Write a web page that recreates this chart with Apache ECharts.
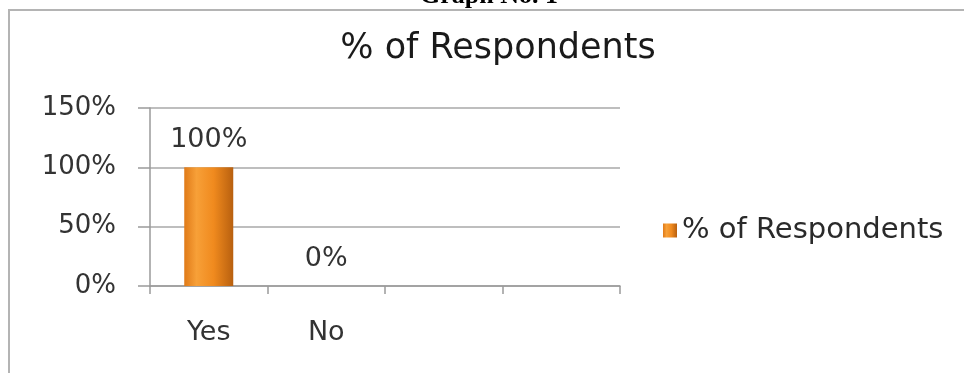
<!DOCTYPE html>
<html>
<head>
<meta charset="utf-8">
<script src="https://cdn.jsdelivr.net/npm/echarts@6/dist/echarts.min.js"></script>
<style>
html,body{margin:0;padding:0;background:#fff;}
#chart{width:964px;height:373px;}
</style>
</head>
<body>
<div id="chart"></div>
<script>
const categories = ['Yes', 'No', '', ''];
const values = [100, 0, null, null];
const seriesName = '% of Respondents';
const chartTitle = '% of Respondents';
const pageHeading = 'Graph No. 1';
const yTicks = { min: 0, max: 150, interval: 50 };

const FONT = 'DejaVu Sans';
const chart = echarts.init(document.getElementById('chart'), null, { renderer: 'canvas' });

const barColor = new echarts.graphic.LinearGradient(0, 0, 1, 0, [
  { offset: 0, color: '#e07a18' },
  { offset: 0.25, color: '#f7a038' },
  { offset: 0.6, color: '#f08a1e' },
  { offset: 1, color: '#b8600f' }
]);

chart.setOption({
  animation: false,
  backgroundColor: '#ffffff',
  title: {
    text: chartTitle,
    left: 493,
    top: 26,
    textAlign: 'center',
    textStyle: { fontFamily: FONT, fontSize: 35, fontWeight: 'normal', color: '#1a1a1a' }
  },
  legend: {
    left: 658,
    top: 211,
    itemWidth: 14,
    itemHeight: 14,
    itemGap: 10,
    icon: 'rect',
    data: [seriesName],
    textStyle: { fontFamily: FONT, fontSize: 29, color: '#2a2a2a' }
  },
  grid: { left: 150, right: 344, top: 108, bottom: 87, containLabel: false },
  xAxis: {
    type: 'category',
    data: categories,
    boundaryGap: true,
    axisLine: { show: true, lineStyle: { color: '#9a9a9a', width: 1.5 } },
    axisTick: { show: true, interval: 0, length: 8, lineStyle: { color: '#9a9a9a', width: 1.5 } },
    axisLabel: { interval: 0, margin: 33, fontFamily: FONT, fontSize: 27, color: '#333333' }
  },
  yAxis: {
    type: 'value',
    min: yTicks.min,
    max: yTicks.max,
    interval: yTicks.interval,
    axisLine: { show: true, lineStyle: { color: '#9a9a9a', width: 1.5 } },
    axisTick: { show: true, length: 12, lineStyle: { color: '#9a9a9a', width: 1.5 } },
    axisLabel: { margin: 34, fontFamily: FONT, fontSize: 26, color: '#333333', formatter: '{value}%' },
    splitLine: { show: true, lineStyle: { color: '#a8a8a8', width: 1.5 } }
  },
  series: [{
    name: seriesName,
    type: 'bar',
    data: values,
    barWidth: 49,
    itemStyle: { color: barColor, borderColor: '#b35d12', borderWidth: 0 },
    label: {
      show: true,
      position: 'top',
      distance: 14,
      formatter: function (p) { return p.value == null ? '' : p.value + '%'; },
      fontFamily: FONT,
      fontSize: 27,
      color: '#333333'
    }
  }],
  graphic: [
    {
      type: 'rect',
      z: -1,
      shape: { x: 9, y: 10, width: 1000, height: 400 },
      style: { fill: 'none', stroke: '#b4b4b4', lineWidth: 2 }
    },
    {
      type: 'text',
      x: 489,
      y: -4,
      style: {
        text: pageHeading,
        font: 'bold 26px "Liberation Serif"',
        fill: '#000',
        align: 'center',
        verticalAlign: 'middle'
      }
    }
  ]
});
</script>
</body>
</html>
